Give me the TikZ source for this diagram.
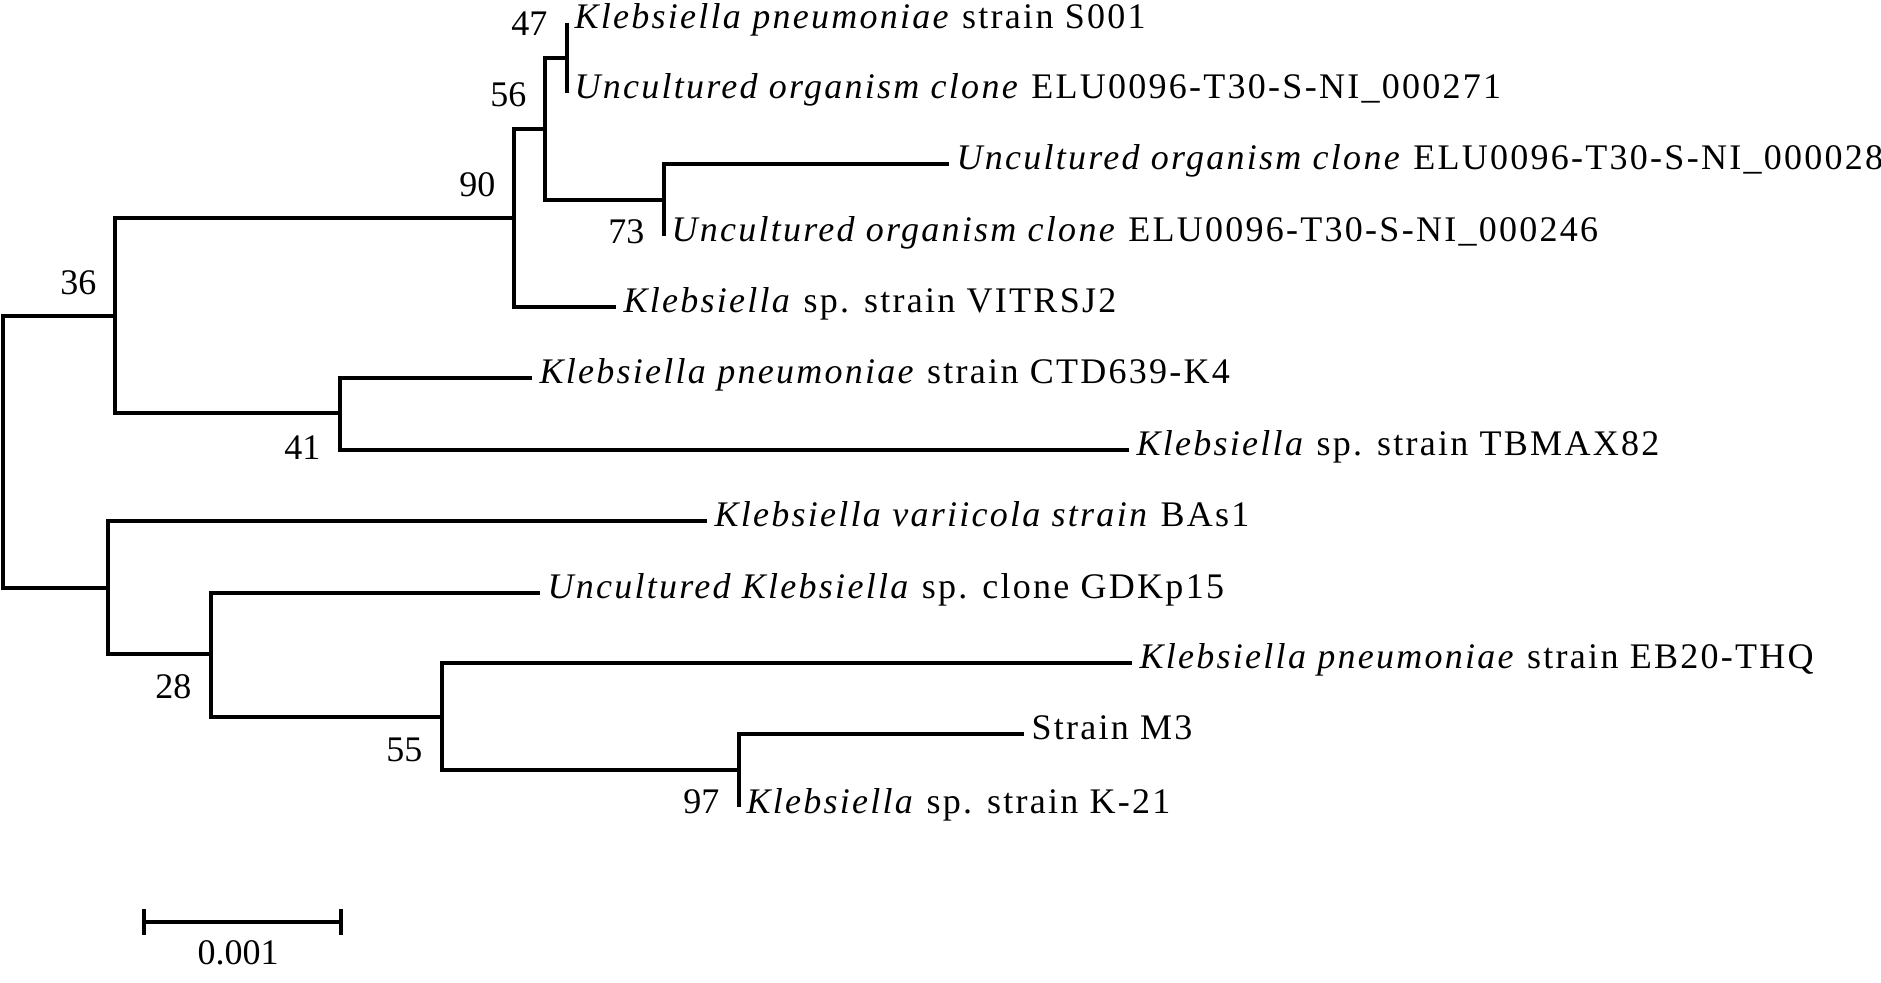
\documentclass[tikz,border=0pt]{standalone}
\usepackage{fontspec}
\setmainfont{Liberation Serif}
\usepackage{tikz}

\begin{document}
\begin{tikzpicture}[x=0.5pt,y=-0.5pt,line width=1.6pt,
	leaf node/.style={anchor=west,inner xsep=3pt,inner ysep=0pt,text height=0.6em,text depth=0pt,font=\fontsize{18}{20}\selectfont\addfontfeature{LetterSpace=6.3}},
	boot node/.style={anchor=east,inner sep=0pt,text height=0.66em,text depth=0pt,font=\fontsize{18}{20}\selectfont}]
		\useasboundingbox (0,0) rectangle (1881,983);
		% internal nodes
		\coordinate (root) at (3,452);
		\coordinate (n36) at (115,316);
		\coordinate (n90) at (514,218);
		\coordinate (n56) at (545,129);
		\coordinate (n47) at (567,58);
		\coordinate (n73) at (664,200);
		\coordinate (n41) at (340,413);
		\coordinate (nb) at (108,588);
		\coordinate (n28) at (211,654);
		\coordinate (n55) at (442,717);
		\coordinate (n97) at (739,770);
		% leaves
		\node[leaf node] (s001) at (567,23) {\textit{Klebsiella pneumoniae} strain S001};
		\node[leaf node] (c271) at (567,93) {\textit{Uncultured organism clone} ELU0096-T30-S-NI\_000271};
		\node[leaf node] (c028) at (949,164) {\textit{Uncultured organism clone} ELU0096-T30-S-NI\_000028};
		\node[leaf node] (c246) at (664,236) {\textit{Uncultured organism clone} ELU0096-T30-S-NI\_000246};
		\node[leaf node] (vit) at (616,307) {\textit{Klebsiella} sp. strain VITRSJ2};
		\node[leaf node] (ctd) at (532,378) {\textit{Klebsiella pneumoniae} strain CTD639-K4};
		\node[leaf node] (tbm) at (1129,450) {\textit{Klebsiella} sp. strain TBMAX82};
		\node[leaf node] (bas) at (707,521) {\textit{Klebsiella variicola strain} BAs1};
		\node[leaf node] (gdk) at (540,593) {\textit{Uncultured Klebsiella} sp. clone GDKp15};
		\node[leaf node] (eb20) at (1132,663) {\textit{Klebsiella pneumoniae} strain EB20-THQ};
		\node[leaf node] (m3) at (1024,734) {Strain M3};
		\node[leaf node] (k21) at (739,807) {\textit{Klebsiella} sp. strain K-21};
		% branches
		\foreach \a/\b in {root/n36,root/nb,n36/n90,n36/n41,n90/n56,n90/vit.west,
			n56/n47,n56/n73,n47/s001.west,n47/c271.west,n73/c028.west,n73/c246.west,
			n41/ctd.west,n41/tbm.west,nb/bas.west,nb/n28,n28/gdk.west,n28/n55,
			n55/eb20.west,n55/n97,n97/m3.west,n97/k21.west}
			\draw (\a) |- (\b);
		% bootstrap values
		\node[boot node] (b47) at (549,29) {47};
		\node[boot node] (b56) at (528,100) {56};
		\node[boot node] (b90) at (497,190) {90};
		\node[boot node] (b36) at (98,288) {36};
		\node[boot node] (b73) at (646,237) {73};
		\node[boot node] (b41) at (322,453) {41};
		\node[boot node] (b28) at (193,692) {28};
		\node[boot node] (b55) at (424,755) {55};
		\node[boot node] (b97) at (721,807) {97};
		% scale bar
		\coordinate (sbl) at (144,922);
		\coordinate (sbr) at (341,922);
		\draw (sbl) -- (sbr);
		\draw ([yshift=6.5pt]sbl) -- ([yshift=-6.5pt]sbl);
		\draw ([yshift=6.5pt]sbr) -- ([yshift=-6.5pt]sbr);
		\node[boot node,anchor=center] (sl) at (238,958) {0.001};
\end{tikzpicture}
\end{document}
